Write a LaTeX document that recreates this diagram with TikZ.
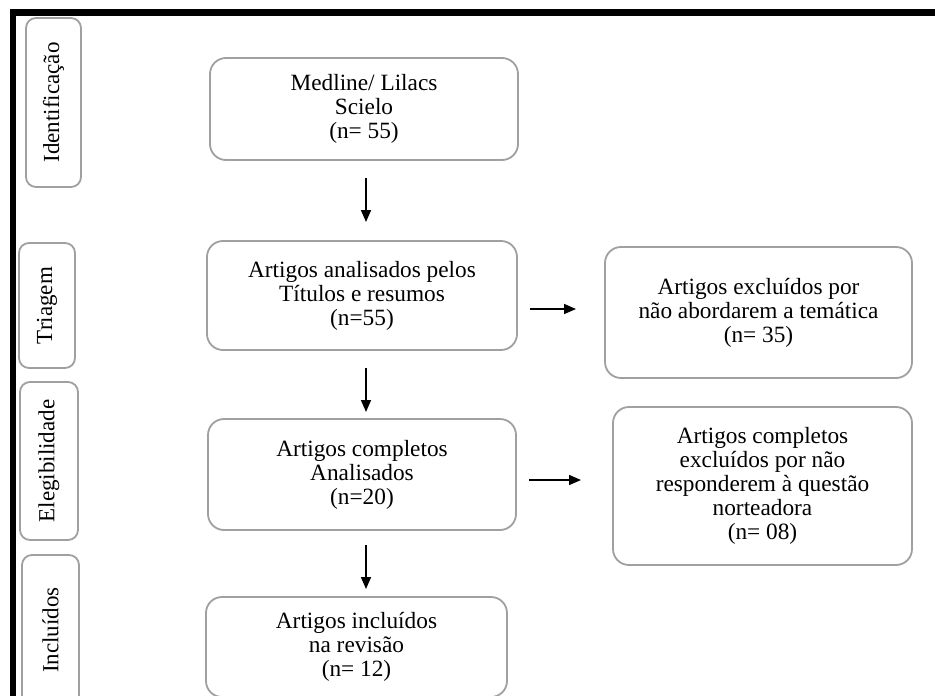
\documentclass[tikz,border=0pt]{standalone}
\usepackage{fontspec}
\setmainfont{Liberation Serif}
\usetikzlibrary{arrows.meta}
\definecolor{boxgray}{RGB}{160,160,160}
\tikzset{
  mainbox/.style={draw=boxgray, line width=1.8pt, rounded corners=16pt, align=center,
    font=\fontsize{23.3}{24}\selectfont, inner sep=0pt},
  sidebox/.style={draw=boxgray, line width=1.8pt, rounded corners=10pt, inner sep=0pt},
  sidetext/.style={rotate=90, font=\fontsize{23}{24}\selectfont, inner sep=0pt},
  arr/.style={line width=1.6pt, -{Triangle[length=12pt,width=10pt]}},
}
\begin{document}
\begin{tikzpicture}[x=1pt,y=1pt]
\useasboundingbox (0,0) rectangle (935,-696);
\fill[white] (0,0) rectangle (935,-696);
% black frame
\fill[black] (10,-9) rectangle (935,-16);
\fill[black] (10,-9) rectangle (16,-696);
% side boxes
\node[sidebox, minimum width=55pt, minimum height=169pt] (s1) at (53.5,-102.5) {};
\node[sidetext] (t1) at (s1) {Identificação};
\node[sidebox, minimum width=56pt, minimum height=125pt] (s2) at (47,-305.5) {};
\node[sidetext] (t2) at (s2) {Triagem};
\node[sidebox, minimum width=58pt, minimum height=158pt] (s3) at (49,-461) {};
\node[sidetext] (t3) at (s3) {Elegibilidade};
\node[sidebox, minimum width=57pt, minimum height=150pt] (s4) at (50.5,-630) {};
\node[sidetext] (t4) at (s4) {Incluídos};
% main boxes
\node[mainbox, minimum width=308pt, minimum height=102pt] (med) at (364,-109)
  {Medline/ Lilacs\\Scielo\\(n= 55)};
\node[mainbox, minimum width=310pt, minimum height=109pt] (ana) at (362,-295.5)
  {Artigos analisados pelos\\Títulos e resumos\\(n=55)};
\node[mainbox, minimum width=307pt, minimum height=131pt] (exc1) at (758.5,-312.5)
  {Artigos excluídos por\\não abordarem a temática\\(n= 35)};
\node[mainbox, minimum width=308pt, minimum height=111pt] (comp) at (362,-474.5)
  {Artigos completos\\Analisados\\(n=20)};
\node[mainbox, minimum width=299pt, minimum height=158pt] (exc2) at (762.5,-486)
  {Artigos completos\\excluídos por não\\responderem à questão\\norteadora\\(n= 08)};
\node[mainbox, minimum width=301pt, minimum height=100pt] (inc) at (356.5,-647)
  {Artigos incluídos\\na revisão\\(n= 12)};
% arrow end points
\coordinate (a1s) at (366,-178); \coordinate (a1e) at (366,-222);
\coordinate (a2s) at (366,-368); \coordinate (a2e) at (366,-412);
\coordinate (a3s) at (366,-545); \coordinate (a3e) at (366,-589);
\coordinate (h1s) at (530,-309); \coordinate (h1e) at (576,-309);
\coordinate (h2s) at (529,-480); \coordinate (h2e) at (581,-480);
\draw[arr] (a1s) -- (a1e);
\draw[arr] (a2s) -- (a2e);
\draw[arr] (a3s) -- (a3e);
\draw[arr] (h1s) -- (h1e);
\draw[arr] (h2s) -- (h2e);
\end{tikzpicture}
\end{document}
